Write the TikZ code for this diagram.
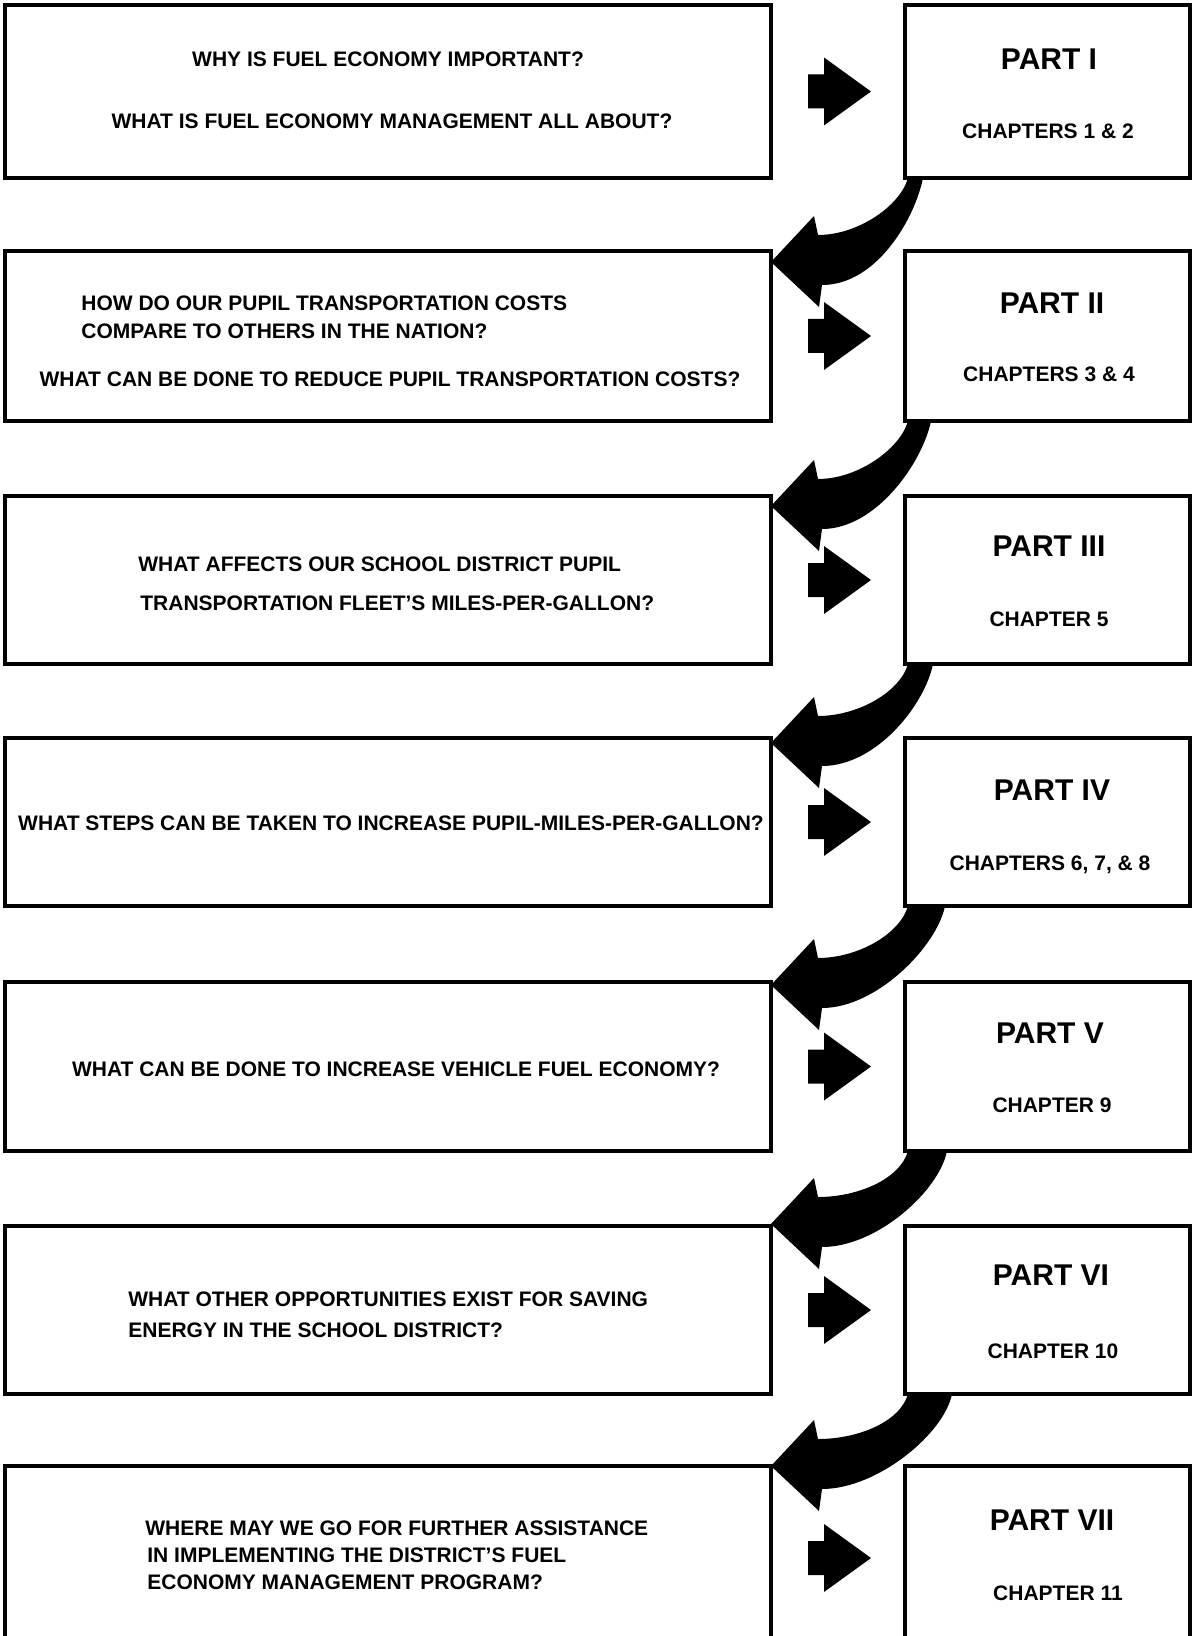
\documentclass[tikz,border=0pt]{standalone}
\usepackage{fontspec}
\setmainfont{Liberation Sans}
\usetikzlibrary{calc}
\begin{document}
\begin{tikzpicture}[x=0.5pt,y=-0.5pt,
  box/.style={draw, line width=1.6pt, inner sep=0pt, outer sep=0pt, anchor=north west},
  lbox/.style={box, minimum width=383pt},
  rbox/.style={box, minimum width=142.5pt},
  qtext/.style={font=\bfseries\fontsize{10.5}{12}\selectfont, inner sep=0pt, anchor=base},
  qleft/.style={qtext, anchor=base west},
  ptext/.style={font=\bfseries\fontsize{15}{18}\selectfont, inner sep=0pt, anchor=base},
  blk/.style={fill=black, draw=none}]
\useasboundingbox (0,0) rectangle (1193,1636);
\clip (0,0) rectangle (1193,1636);
% boxes
\node[lbox, minimum height=86.5pt] (L0) at (5,5) {};
\node[lbox, minimum height=85pt]   (L1) at (5,251) {};
\node[lbox, minimum height=84pt]   (L2) at (5,496) {};
\node[lbox, minimum height=84pt]   (L3) at (5,738) {};
\node[lbox, minimum height=84.5pt] (L4) at (5,982) {};
\node[lbox, minimum height=84pt]   (L5) at (5,1226) {};
\node[lbox, minimum height=92pt]   (L6) at (5,1466) {};
\node[rbox, minimum height=86.5pt] (R0) at (905,5) {};
\node[rbox, minimum height=85pt]   (R1) at (905,251) {};
\node[rbox, minimum height=84pt]   (R2) at (905,496) {};
\node[rbox, minimum height=84pt]   (R3) at (905,738) {};
\node[rbox, minimum height=84.5pt] (R4) at (905,982) {};
\node[rbox, minimum height=84pt]   (R5) at (905,1226) {};
\node[rbox, minimum height=92pt]   (R6) at (905,1466) {};
% straight arrows
\foreach \i in {0,...,6}{
  \fill[blk] ($(L\i.east)+(37,-17)$) -- ($(L\i.east)+(53,-17)$) -- ($(L\i.east)+(53,-34)$)
    -- ($(L\i.east)+(100,0)$) -- ($(L\i.east)+(53,34)$) -- ($(L\i.east)+(53,17)$)
    -- ($(L\i.east)+(37,17)$) -- cycle;
}
% curved arrows
\foreach \i/\j/\w/\d in {0/1/15/11, 1/2/23/10, 2/3/25/5, 3/4/37/3, 4/5/39/-2, 5/6/44/0}{
  \path (R\i.south west) coordinate (s) (L\j.north east) coordinate (t);
  \fill[blk] ($(s)+(3,0)$) .. controls ($(s)+(-5,28)$) and ($(t)+(87,\d-27)$) .. ($(t)+(47,\d-27)$)
    -- ($(t)+(43,\d-46)$) -- ($(t)+(0,\d)$) -- ($(t)+(48,\d+45)$) -- ($(t)+(51,\d+23)$)
    .. controls ($(t)+(106,\d+23)$) and ($(s)+(\w-5,40)$) .. ($(s)+(3+\w,0)$) -- cycle;
}
% question texts
\node[qtext] (q0a) at (388,67) {WHY IS FUEL ECONOMY IMPORTANT?};
\node[qtext] (q0b) at (392,129) {WHAT IS FUEL ECONOMY MANAGEMENT ALL ABOUT?};
\node[qleft] (q1a) at (81,311) {HOW DO OUR PUPIL TRANSPORTATION COSTS};
\node[qleft] (q1b) at (81,339) {COMPARE TO OTHERS IN THE NATION?};
\node[qtext] (q1c) at (390,387) {WHAT CAN BE DONE TO REDUCE PUPIL TRANSPORTATION COSTS?};
\node[qleft] (q2a) at (138,571) {WHAT AFFECTS OUR SCHOOL DISTRICT PUPIL};
\node[qleft] (q2b) at (140,610) {TRANSPORTATION FLEET'S MILES-PER-GALLON?};
\node[qtext] (q3a) at (391,830) {WHAT STEPS CAN BE TAKEN TO INCREASE PUPIL-MILES-PER-GALLON?};
\node[qtext] (q4a) at (396,1076) {WHAT CAN BE DONE TO INCREASE VEHICLE FUEL ECONOMY?};
\node[qleft] (q5a) at (128,1306) {WHAT OTHER OPPORTUNITIES EXIST FOR SAVING};
\node[qleft] (q5b) at (128,1337) {ENERGY IN THE SCHOOL DISTRICT?};
\node[qleft] (q6a) at (145,1535) {WHERE MAY WE GO FOR FURTHER ASSISTANCE};
\node[qleft] (q6b) at (147,1562) {IN IMPLEMENTING THE DISTRICT'S FUEL};
\node[qleft] (q6c) at (147,1589) {ECONOMY MANAGEMENT PROGRAM?};
% part texts
\node[ptext] (p0) at (1049,70) {PART I};
\node[qtext] (c0) at (1048,139) {CHAPTERS 1 \& 2};
\node[ptext] (p1) at (1052,314) {PART II};
\node[qtext] (c1) at (1049,382) {CHAPTERS 3 \& 4};
\node[ptext] (p2) at (1049,556) {PART III};
\node[qtext] (c2) at (1049,626) {CHAPTER 5};
\node[ptext] (p3) at (1052,800) {PART IV};
\node[qtext] (c3) at (1050,870) {CHAPTERS 6, 7, \& 8};
\node[ptext] (p4) at (1050,1043) {PART V};
\node[qtext] (c4) at (1052,1112) {CHAPTER 9};
\node[ptext] (p5) at (1051,1285) {PART VI};
\node[qtext] (c5) at (1053,1358) {CHAPTER 10};
\node[ptext] (p6) at (1052,1530) {PART VII};
\node[qtext] (c6) at (1058,1600) {CHAPTER 11};
\end{tikzpicture}
\end{document}
